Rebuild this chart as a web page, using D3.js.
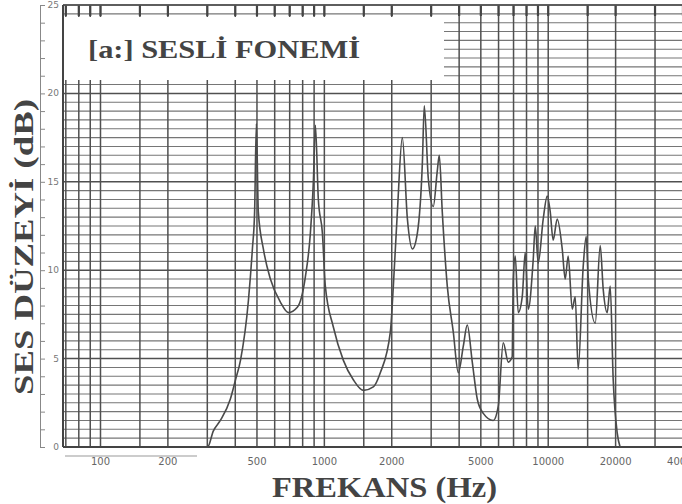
<!DOCTYPE html>
<html>
<head>
<meta charset="utf-8">
<script src="https://cdn.jsdelivr.net/npm/d3@7"></script>
<style>
  body { margin: 0; background: #fff; }
  svg { display: block; }
</style>
</head>
<body>
<div id="chart"></div>
<script>
// spectrum: frequency (Hz) and level (dB)
const freqs = [279, 301, 319, 343, 380, 401, 422, 458, 477, 488, 497, 507, 534, 574, 636, 691, 757, 822, 866, 893, 912, 940, 980, 1010, 1096, 1216, 1347, 1493, 1655, 1778, 1971, 2033, 2119, 2230, 2349, 2474, 2603, 2741, 2795, 2912, 3066, 3194, 3261, 3363, 3541, 3767, 3966, 4175, 4349, 4579, 4822, 5128, 5680, 5980, 6297, 6630, 6902, 6980, 7125, 7345, 7656, 7893, 8140, 8570, 8750, 9020, 9500, 9900, 10210, 10520, 10970, 11550, 11910, 12280, 12800, 13200, 13610, 14330, 14780, 15100, 16220, 17070, 17610, 18340, 18920, 19510, 20330, 20950]
const levels = [0, 0, 0.9, 1.5, 2.7, 3.8, 4.9, 8.3, 11.2, 13.3, 18.3, 13.3, 11.2, 9.5, 8.2, 7.6, 7.9, 9.6, 12.1, 15.0, 18.2, 14.0, 12.1, 9.1, 6.8, 4.9, 3.8, 3.2, 3.4, 4.2, 6.5, 9.1, 13.3, 17.5, 12.9, 11.2, 12.1, 16.1, 19.3, 15.2, 13.6, 15.6, 16.5, 13.3, 9.1, 6.5, 4.2, 5.7, 6.9, 4.8, 2.7, 1.9, 1.5, 2.3, 5.9, 4.8, 5.1, 9.5, 10.8, 7.6, 8.5, 11.0, 7.8, 10.6, 12.5, 10.4, 12.9, 14.2, 13.3, 11.7, 12.9, 11.2, 9.5, 10.8, 7.8, 8.5, 4.4, 10.2, 11.9, 9.5, 7.0, 11.4, 8.9, 7.6, 9.1, 3.8, 0.8, 0]

const xTickValues = [100, 200, 500, 1000, 2000, 5000, 10000, 20000, 40000]
const xTickLabels = ['100', '200', '500', '1000', '2000', '5000', '10000', '20000', '40000']
const yTickValues = [0, 5, 10, 15, 20, 25]
const gridSteps = [1, 1.5, 2, 3, 4, 5, 6, 7, 8, 9]
const decades = [10, 100, 1000, 10000]

const titleText = '[a:] SESLİ FONEMİ'
const xTitle = 'FREKANS (Hz)'
const yTitle = 'SES DÜZEYİ (dB)'

const width = 682
const height = 504

const x = d3.scaleLog()
  .domain([68, 40000])
  .range([63, 683])

const y = d3.scaleLinear()
  .domain([0, 25])
  .range([447, 5])

const svg = d3.select('#chart')
  .append('svg')
  .attr('width', width)
  .attr('height', height)

// vertical grid at 1, 1.5, 2 ... 9 of every decade
let gridFreqs = []
decades.forEach(d => gridSteps.forEach(s => {
  let f = d * s
  if (f >= 68 && f <= 40000) gridFreqs.push(f)
}))

// horizontal grid every half dB
const hLines = d3.range(0, 25.01, 0.5)

const grid = svg.append('g')

grid.selectAll('.hgrid')
  .data(hLines)
  .enter()
  .append('line')
  .attr('x1', 63)
  .attr('x2', width)
  .attr('y1', d => y(d))
  .attr('y2', d => y(d))
  .attr('stroke', d => d % 5 == 0 ? '#505050' : '#767676')
  .attr('stroke-width', d => d % 5 == 0 ? 1.5 : 1.1)

grid.selectAll('.vgrid')
  .data(gridFreqs)
  .enter()
  .append('line')
  .attr('x1', d => x(d))
  .attr('x2', d => x(d))
  .attr('y1', y(25))
  .attr('y2', y(0))
  .attr('stroke', '#505050')
  .attr('stroke-width', 1.5)

// white title panel over the grid
svg.append('rect')
  .attr('x', 64)
  .attr('y', 17)
  .attr('width', 380)
  .attr('height', 63)
  .attr('fill', '#fff')

// dark marks along the top edge
svg.selectAll('.topmark')
  .data(gridFreqs)
  .enter()
  .append('line')
  .attr('x1', d => x(d))
  .attr('x2', d => x(d))
  .attr('y1', y(25))
  .attr('y2', y(25) + 11)
  .attr('stroke', '#444')
  .attr('stroke-width', 2.2)

// frame
svg.append('line')
  .attr('x1', 63).attr('x2', width)
  .attr('y1', y(25)).attr('y2', y(25))
  .attr('stroke', '#555').attr('stroke-width', 1.5)
svg.append('line')
  .attr('x1', 63).attr('x2', 63)
  .attr('y1', y(25)).attr('y2', y(0))
  .attr('stroke', '#444').attr('stroke-width', 2)
svg.append('line')
  .attr('x1', 63).attr('x2', width)
  .attr('y1', y(0)).attr('y2', y(0))
  .attr('stroke', '#444').attr('stroke-width', 2)

// left level scale
const yAxis = g => g.attr('transform', 'translate(40,0)')
  .call(d3.axisRight(y).tickValues(d3.range(0, 26, 1)).tickSize(5).tickFormat(''))

let yG = svg.append('g').call(yAxis)
yG.selectAll('path').attr('stroke', '#888')
yG.selectAll('line').attr('stroke', '#888')

svg.selectAll('.ylab')
  .data(yTickValues)
  .enter()
  .append('text')
  .attr('x', 59)
  .attr('y', d => y(d) + 3)
  .attr('text-anchor', 'end')
  .attr('font-family', 'DejaVu Sans')
  .attr('font-size', 9)
  .attr('fill', '#777')
  .text(d => d)

// frequency labels
svg.append('line')
  .attr('x1', 65).attr('x2', 197)
  .attr('y1', 456).attr('y2', 456)
  .attr('stroke', '#999').attr('stroke-width', 1.2)

svg.selectAll('.xlab')
  .data(xTickValues)
  .enter()
  .append('text')
  .attr('x', (d, i) => x(d))
  .attr('y', 465)
  .attr('text-anchor', 'middle')
  .attr('font-family', 'DejaVu Sans')
  .attr('font-size', 10)
  .attr('fill', '#666')
  .text((d, i) => xTickLabels[i])

// spectrum curve
const line = d3.line()
  .x(d => x(d[0]))
  .y(d => y(d[1]))
  .curve(d3.curveMonotoneX)

svg.append('path')
  .datum(freqs.map((f, i) => [f, levels[i]]))
  .attr('d', line)
  .attr('fill', 'none')
  .attr('stroke', '#4a4a4a')
  .attr('stroke-width', 1.6)

// titles
svg.append('text')
  .attr('x', 88)
  .attr('y', 58)
  .attr('font-family', 'Liberation Serif')
  .attr('font-weight', 'bold')
  .attr('font-size', 26)
  .attr('textLength', 272)
  .attr('lengthAdjust', 'spacingAndGlyphs')
  .attr('fill', '#444')
  .text(titleText)

svg.append('text')
  .attr('x', 272)
  .attr('y', 497)
  .attr('font-family', 'Liberation Serif')
  .attr('font-weight', 'bold')
  .attr('font-size', 29)
  .attr('textLength', 225)
  .attr('lengthAdjust', 'spacingAndGlyphs')
  .attr('fill', '#444')
  .text(xTitle)

svg.append('text')
  .attr('transform', 'translate(33,395) rotate(-90)')
  .attr('font-family', 'Liberation Serif')
  .attr('font-weight', 'bold')
  .attr('font-size', 27)
  .attr('textLength', 296)
  .attr('lengthAdjust', 'spacingAndGlyphs')
  .attr('fill', '#444')
  .text(yTitle)
</script>
</body>
</html>
